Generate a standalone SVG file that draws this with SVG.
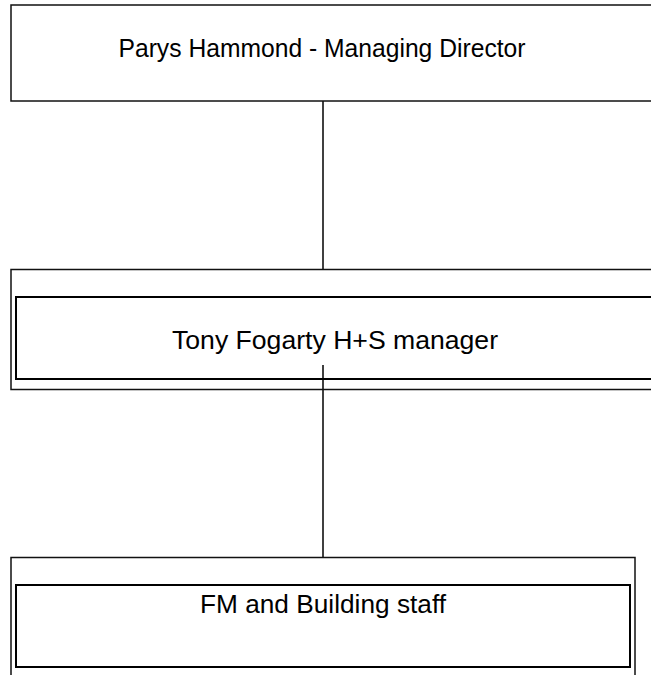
<svg xmlns="http://www.w3.org/2000/svg" width="651" height="675" viewBox="0 0 651 675">
<style>
.outer{fill:none;stroke:#111;stroke-width:1.5}
.inner{fill:none;stroke:#000;stroke-width:2}
.lbl{font-family:"Liberation Sans",Arial,sans-serif;font-size:26px;fill:#000;text-anchor:middle}
.conn{stroke:#000;stroke-width:1.5;fill:none}
</style>
<rect x="0" y="0" width="651" height="675" fill="#fff"/>
<g id="connectors">
<line class="conn" x1="323" y1="101" x2="323" y2="269.5"/>
<line class="conn" x1="323" y1="365" x2="323" y2="557.5"/>
</g>
<g id="node-md">
<rect class="outer" x="11" y="5" width="660" height="96"/>
<text class="lbl" x="322" y="57" textLength="407" lengthAdjust="spacingAndGlyphs">Parys Hammond - Managing Director</text>
</g>
<g id="node-hs">
<rect class="outer" x="11" y="269.5" width="660" height="120"/>
<rect class="inner" x="16" y="297" width="660" height="82"/>
<text class="lbl" x="335" y="349" textLength="326" lengthAdjust="spacingAndGlyphs">Tony Fogarty H+S manager</text>
</g>
<g id="node-fm">
<rect class="outer" x="11" y="557.5" width="624" height="140"/>
<rect class="inner" x="16" y="585" width="614" height="82"/>
<text class="lbl" x="323" y="613" textLength="246" lengthAdjust="spacingAndGlyphs">FM and Building staff</text>
</g>
</svg>
